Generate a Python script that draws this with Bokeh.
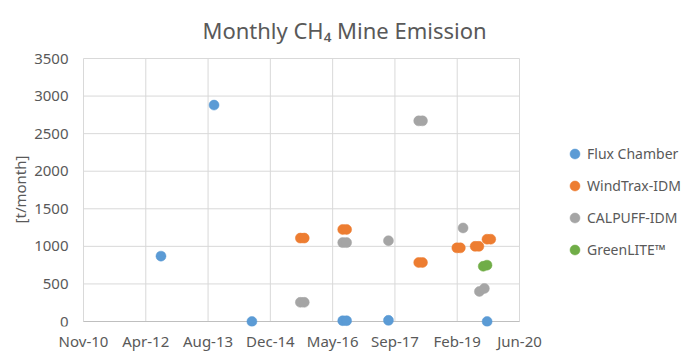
import math
from datetime import timedelta
import pandas as pd
from bokeh.plotting import figure
from bokeh.core.properties import value
from bokeh.models import (Range1d, FixedTicker, DatetimeTickFormatter, Legend,
                          LegendItem, ColumnDataSource, Label)
from bokeh.embed import file_html
from bokeh.resources import INLINE

# ---------------- data ----------------
title_text = "Monthly CH\u2084 Mine Emission"
y_label = "[t/month]"

x_tick_dates = ["2010-11-18", "2012-04-01", "2013-08-14", "2014-12-27",
                "2016-05-10", "2017-09-22", "2019-02-04", "2020-06-18"]
y_ticks = [0, 500, 1000, 1500, 2000, 2500, 3000, 3500]

flux_dates = ["2012-08-01", "2013-10-01", "2014-08-01", "2016-07-30",
              "2016-08-30", "2017-08-01", "2019-10-02"]
flux_vals = [870, 2880, 0, 10, 10, 15, 0]

windtrax_dates = ["2015-08-25", "2015-09-25", "2016-07-30", "2016-08-30",
                  "2018-04-01", "2018-05-01", "2019-02-01", "2019-03-01",
                  "2019-06-28", "2019-07-28", "2019-10-01", "2019-10-31"]
windtrax_vals = [1110, 1110, 1225, 1225, 785, 785, 980, 980, 1000, 1000, 1095, 1095]

calpuff_dates = ["2015-08-25", "2015-09-25", "2016-07-30", "2016-08-30",
                 "2017-08-01", "2018-04-01", "2018-05-01", "2019-03-23",
                 "2019-08-01", "2019-09-10"]
calpuff_vals = [255, 255, 1050, 1050, 1075, 2670, 2670, 1245, 400, 440]

greenlite_dates = ["2019-09-01", "2019-10-01"]
greenlite_vals = [735, 750]

series_names = ["Flux Chamber", "WindTrax-IDM", "CALPUFF-IDM", "GreenLITE\u2122"]
series_colors = ["#5B9BD5", "#ED7D31", "#A5A5A5", "#70AD47"]

# ---------------- layout ----------------
FONT = "Noto Sans"
TXT = "#595959"
GRID = "#d9d9d9"
W, H = 693, 361
BOTTOM = 35                 # room for the x tick labels
FRAME_H = H - BOTTOM
PLOT_L, PLOT_R = 83, 519    # pixel position of first / last x tick
PLOT_T, PLOT_B = 58, 321    # pixel position of top / bottom y tick

tick_dt = pd.to_datetime(x_tick_dates)
span_days = (tick_dt[-1] - tick_dt[0]).days
kx = (PLOT_R - PLOT_L) / span_days
x_start = tick_dt[0] - timedelta(days=PLOT_L / kx)
x_end = x_start + timedelta(days=W / kx)
ky = (PLOT_B - PLOT_T) / (y_ticks[-1] - y_ticks[0])
y_start = y_ticks[0] - (FRAME_H - PLOT_B) / ky
y_end = y_ticks[-1] + PLOT_T / ky

p = figure(width=W, height=H, x_axis_type="datetime", y_axis_location=None,
           output_backend="svg", toolbar_location=None,
           x_range=Range1d(x_start, x_end), y_range=Range1d(y_start, y_end),
           min_border_left=0, min_border_right=0,
           min_border_top=0, min_border_bottom=BOTTOM)
p.outline_line_color = None
p.background_fill_color = "white"
p.border_fill_color = "white"
p.xgrid.grid_line_color = None
p.ygrid.grid_line_color = None

# grid lines from the tick lists
tick_ms = [(t - pd.Timestamp("1970-01-01")).total_seconds() * 1000 for t in tick_dt]
p.segment(x0=tick_dt, y0=[y_ticks[0]] * len(tick_dt), x1=tick_dt,
          y1=[y_ticks[-1]] * len(tick_dt), line_color=GRID, line_width=1)
p.segment(x0=[tick_dt[0]] * len(y_ticks), y0=y_ticks,
          x1=[tick_dt[-1]] * len(y_ticks), y1=y_ticks,
          line_color=GRID, line_width=1)
p.segment(x0=[tick_dt[0]], y0=[y_ticks[0]], x1=[tick_dt[-1]], y1=[y_ticks[0]],
          line_color="#bfbfbf", line_width=1)

# y tick labels
p.text(x=[tick_dt[0]] * len(y_ticks), y=y_ticks, text=[str(v) for v in y_ticks],
       x_offset=-15, text_align="right", text_baseline="middle",
       text_font=value(FONT), text_font_size="15px", text_color=TXT)

# x axis
xa = p.xaxis[0]
xa.ticker = FixedTicker(ticks=tick_ms)
fmt = "%b-%y"
xa.formatter = DatetimeTickFormatter(
    microseconds=fmt, milliseconds=fmt, seconds=fmt, minsec=fmt, minutes=fmt,
    hourmin=fmt, hours=fmt, days=fmt, months=fmt, years=fmt)
xa.axis_line_color = None
xa.major_tick_line_color = None
xa.minor_tick_line_color = None
xa.major_tick_out = 0
xa.major_label_standoff = 4
xa.major_label_text_font = FONT
xa.major_label_text_font_size = "15px"
xa.major_label_text_color = TXT

# title and y-axis title
p.add_layout(Label(x=344, y=FRAME_H - 29, x_units="screen", y_units="screen",
                   text=title_text, text_align="center", text_baseline="alphabetic",
                   text_font=FONT, text_font_size="22px", text_color=TXT))
p.add_layout(Label(x=19, y=FRAME_H - 189, x_units="screen", y_units="screen",
                   text=y_label, angle=math.pi / 2, text_align="center",
                   text_baseline="middle", text_font=FONT,
                   text_font_size="15px", text_color=TXT))

# series
all_dates = [flux_dates, windtrax_dates, calpuff_dates, greenlite_dates]
all_vals = [flux_vals, windtrax_vals, calpuff_vals, greenlite_vals]
items = []
for name, color, d, v in zip(series_names, series_colors, all_dates, all_vals):
    src = ColumnDataSource(dict(x=pd.to_datetime(d), y=v))
    r = p.scatter("x", "y", source=src, size=10, marker="circle",
                  fill_color=color, line_color=color, line_width=0.5)
    items.append(LegendItem(label=name, renderers=[r]))

legend = Legend(items=items, location=(562, FRAME_H - 262))
legend.label_text_font = FONT
legend.label_text_font_size = "14px"
legend.label_text_color = TXT
legend.glyph_width = 25
legend.glyph_height = 25
legend.label_height = 25
legend.spacing = 7
legend.label_standoff = -2
legend.padding = 0
legend.margin = 0
legend.border_line_color = None
legend.background_fill_alpha = 0
p.add_layout(legend, "center")

open("out.html", "w").write(file_html(p, INLINE))
